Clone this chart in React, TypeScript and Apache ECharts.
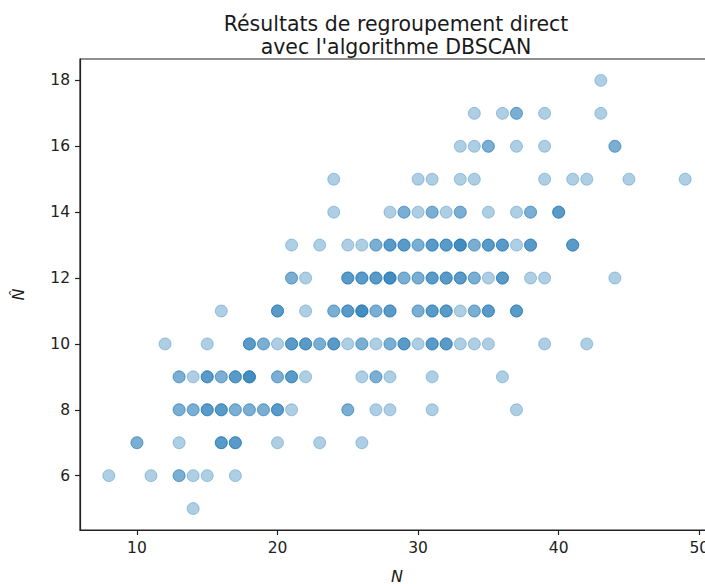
import React, { useEffect, useRef } from "react";
import * as echarts from "echarts";

// N values (x) observed at each N-hat level (y); repeated values are overlapping points
const nHatLevels = [5, 6, 7, 8, 9, 10, 11, 12, 13, 14, 15, 16, 17, 18];
const n5 = [14];
const n6 = [8, 11, 13, 13, 14, 15, 17];
const n7 = [10, 10, 13, 16, 16, 16, 17, 17, 17, 20, 23, 26];
const n8 = [13, 13, 14, 14, 15, 15, 15, 16, 16, 16, 17, 17, 18, 18, 19, 19, 20, 20, 20, 21, 25, 25, 27, 28, 31, 37];
const n9 = [13, 13, 14, 15, 15, 15, 16, 16, 17, 17, 17, 18, 18, 18, 18, 20, 20, 21, 21, 21, 22, 26, 27, 27, 28, 31, 36];
const n10 = [12, 15, 18, 18, 18, 19, 19, 20, 21, 21, 21, 22, 22, 22, 23, 23, 24, 24, 24, 25, 26, 26, 27, 28, 28, 29, 29, 29, 30, 31, 31, 31, 32, 32, 32, 33, 34, 35, 39, 42];
const n11 = [16, 20, 20, 20, 22, 24, 24, 25, 25, 25, 26, 26, 26, 26, 27, 27, 28, 28, 28, 30, 30, 31, 31, 31, 32, 32, 32, 33, 34, 34, 35, 35, 35, 37, 37, 37];
const n12 = [21, 21, 22, 25, 25, 25, 26, 26, 26, 27, 27, 27, 28, 28, 28, 28, 29, 29, 30, 30, 31, 31, 31, 32, 32, 32, 33, 33, 33, 34, 34, 35, 36, 36, 36, 38, 39, 44];
const n13 = [21, 23, 25, 26, 27, 27, 28, 28, 28, 29, 29, 29, 30, 30, 31, 31, 31, 32, 32, 32, 33, 33, 33, 33, 34, 34, 35, 35, 35, 36, 36, 36, 37, 38, 38, 38, 41, 41, 41];
const n14 = [24, 28, 29, 29, 30, 31, 31, 32, 33, 33, 35, 37, 38, 38, 40, 40, 40];
const n15 = [24, 30, 31, 33, 34, 39, 41, 42, 45, 49];
const n16 = [33, 34, 35, 35, 37, 39, 44, 44];
const n17 = [34, 36, 37, 37, 39, 43];
const n18 = [43];

const xTicks = [10, 20, 30, 40, 50];
const yTicks = [6, 8, 10, 12, 14, 16, 18];

const rows = [n5, n6, n7, n8, n9, n10, n11, n12, n13, n14, n15, n16, n17, n18];

export default function App() {
  const ref = useRef<HTMLDivElement>(null);
  useEffect(() => {
    if (!ref.current) return;
    const chart = echarts.init(ref.current, null, { renderer: "svg" });
    const points: number[][] = [];
    rows.forEach((row, i) => row.forEach((n) => points.push([n, nHatLevels[i]])));
    const font = "DejaVu Sans";
    chart.setOption({
      animation: false,
      backgroundColor: "#fff",
      title: {
        text: "Résultats de regroupement direct\navec l'algorithme DBSCAN",
        left: 391,
        top: 7,
        textAlign: "center",
        textStyle: {
          fontFamily: font,
          fontSize: 20.5,
          fontWeight: "normal",
          color: "#1a1a1a",
          lineHeight: 23,
        },
      },
      grid: {
        left: 80,
        top: 59,
        width: 634,
        height: 471,
        show: true,
        borderColor: "#222",
        borderWidth: 1.2,
        containLabel: false,
        outerBoundsMode: "none",
      },
      xAxis: {
        type: "value",
        min: 5.95,
        max: 51.05,
        name: "N",
        nameLocation: "middle",
        nameGap: 38,
        nameTextStyle: { fontFamily: font, fontSize: 16, fontStyle: "italic", color: "#1a1a1a" },
        splitLine: { show: false },
        axisLine: { show: true, lineStyle: { color: "#222", width: 1.2 } },
        axisTick: { show: true, length: 5, customValues: xTicks, lineStyle: { color: "#222", width: 1.2 } },
        axisLabel: { customValues: xTicks, fontFamily: font, fontSize: 15.5, color: "#222", margin: 10 },
      },
      yAxis: {
        type: "value",
        min: 4.35,
        max: 18.65,
        name: "N\u0302",
        nameLocation: "middle",
        nameRotate: 90,
        nameGap: 54,
        nameTextStyle: { fontFamily: font, fontSize: 16, fontStyle: "italic", color: "#1a1a1a" },
        splitLine: { show: false },
        axisLine: { show: true, lineStyle: { color: "#222", width: 1.2 } },
        axisTick: { show: true, length: 5, customValues: yTicks, lineStyle: { color: "#222", width: 1.2 } },
        axisLabel: { customValues: yTicks, fontFamily: font, fontSize: 15.5, color: "#222", margin: 10 },
      },
      series: [
        {
          type: "scatter",
          data: points,
          symbol: "circle",
          symbolSize: 12,
          itemStyle: {
            color: "rgba(31,119,180,0.45)",
            borderColor: "rgba(31,119,180,0.45)",
            borderWidth: 1,
          },
          emphasis: { disabled: true },
        },
      ],
    });
    return () => chart.dispose();
  }, []);
  return (
    <div style={{ position: "absolute", left: 0, top: 0, width: 705, height: 584, overflow: "hidden" }}>
      <div ref={ref} style={{ width: 730, height: 584 }} />
    </div>
  );
}
